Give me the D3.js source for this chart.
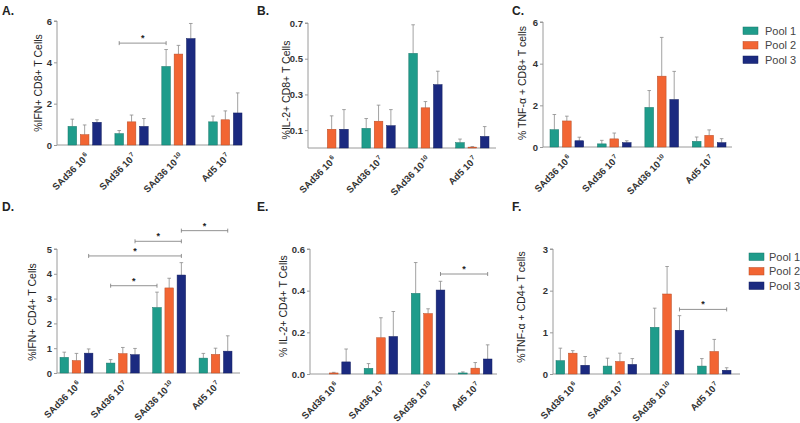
<!DOCTYPE html>
<html lang="en">
  <head>
    <meta charset="utf-8">
    <script src="https://d3js.org/d3.v7.min.js"></script>
    <title>T cell responses</title>
    <style>
      body { margin: 0; background: #fff; }
      text { font-family: Arial, "Liberation Sans", sans-serif; fill: #222; }
    </style>
  </head>
  <body>
    <script>

      var groups = ["SAd36 10|6", "SAd36 10|7", "SAd36 10|10", "Ad5 10|7"];
      var pools = ["Pool 1", "Pool 2", "Pool 3"];
      var colors = ["#1f9c8b", "#f26533", "#1b2a80"];

      // means and upper error bar ends, [pool][group]
      var ifnCd8Mean = [[0.9, 0.55, 3.8, 1.12], [0.5, 1.12, 4.4, 1.22], [1.1, 0.9, 5.15, 1.55]];
      var ifnCd8Top  = [[1.25, 0.7, 4.62, 1.4], [0.97, 1.45, 4.82, 1.65], [1.22, 1.28, 5.88, 2.52]];
      var il2Cd8Mean = [[0, 0.11, 0.53, 0.03], [0.105, 0.15, 0.225, 0.005], [0.105, 0.125, 0.355, 0.065]];
      var il2Cd8Top  = [[0, 0.165, 0.69, 0.05], [0.18, 0.24, 0.26, 0.008], [0.215, 0.215, 0.43, 0.12]];
      var tnfCd8Mean = [[0.83, 0.15, 1.9, 0.27], [1.25, 0.39, 3.4, 0.56], [0.3, 0.21, 2.28, 0.21]];
      var tnfCd8Top  = [[1.56, 0.32, 2.71, 0.48], [1.48, 0.67, 5.26, 0.82], [0.47, 0.3, 3.63, 0.4]];
      var ifnCd4Mean = [[0.63, 0.4, 2.64, 0.6], [0.5, 0.78, 3.43, 0.75], [0.8, 0.74, 3.95, 0.88]];
      var ifnCd4Top  = [[0.84, 0.54, 3.26, 0.79], [0.79, 1.03, 3.82, 1.0], [0.97, 0.99, 4.45, 1.5]];
      var il2Cd4Mean = [[0, 0.027, 0.387, 0.005], [0.005, 0.174, 0.29, 0.028], [0.058, 0.18, 0.403, 0.072]];
      var il2Cd4Top  = [[0, 0.05, 0.535, 0.01], [0.008, 0.27, 0.313, 0.055], [0.12, 0.3, 0.445, 0.14]];
      var tnfCd4Mean = [[0.32, 0.19, 1.12, 0.19], [0.5, 0.3, 1.92, 0.54], [0.21, 0.23, 1.05, 0.09]];
      var tnfCd4Top  = [[0.62, 0.38, 1.58, 0.37], [0.56, 0.5, 2.58, 0.83], [0.42, 0.37, 1.4, 0.15]];

      // significance brackets: [fromGroup, fromPool, toGroup, toPool, y]
      var sigA = [[1, 0, 2, 0, 4.93]];
      var sigD = [[1, 0, 2, 0, 3.52], [0, 2, 2, 2, 4.72], [1, 2, 2, 2, 5.31], [2, 2, 3, 2, 5.74]];
      var sigE = [[2, 2, 3, 2, 0.48]];
      var sigF = [[2, 2, 3, 2, 1.55]];

      var panels = [
        {tag: "A.", tx: 2, ty: 15, ylab: "%IFN+ CD8+ T Cells", lx: 38, ly: 83,
         mean: ifnCd8Mean, top: ifnCd8Top, sig: sigA, ticks: [0, 2, 4, 6], fmt: "d", max: 6,
         x0: 57, b0: 68, b1: 242, xEnd: 242, yBot: 145, yTop: 21},
        {tag: "B.", tx: 257, ty: 15, ylab: "%IL-2+ CD8+ T Cells", lx: 286, ly: 90,
         mean: il2Cd8Mean, top: il2Cd8Top, sig: [], ticks: [0.1, 0.3, 0.5, 0.7], fmt: ".1f", max: 0.7,
         x0: 308, b0: 315, b1: 489, xEnd: 496, yBot: 148, yTop: 23},
        {tag: "C.", tx: 512, ty: 15, ylab: "% TNF-\u03b1 + CD8+ T cells", lx: 522, ly: 83,
         mean: tnfCd8Mean, top: tnfCd8Top, sig: [], ticks: [0, 2, 4, 6], fmt: "d", max: 6,
         x0: 543, b0: 550, b1: 726, xEnd: 732, yBot: 147, yTop: 22},
        {tag: "D.", tx: 2, ty: 211, ylab: "%IFN+ CD4+ T Cells", lx: 32, ly: 312,
         mean: ifnCd4Mean, top: ifnCd4Top, sig: sigD, ticks: [0, 1, 2, 3, 4, 5], fmt: "d", max: 5,
         x0: 57, b0: 60, b1: 232, xEnd: 240, yBot: 373, yTop: 249},
        {tag: "E.", tx: 257, ty: 211, ylab: "% IL-2+ CD4+ T Cells", lx: 283, ly: 306,
         mean: il2Cd4Mean, top: il2Cd4Top, sig: sigE, ticks: [0, 0.2, 0.4, 0.6], fmt: ".1f", max: 0.6,
         x0: 310, b0: 317, b1: 492, xEnd: 497, yBot: 374, yTop: 249},
        {tag: "F.", tx: 512, ty: 211, ylab: "%TNF-\u03b1 + CD4+ T cells", lx: 521, ly: 307,
         mean: tnfCd4Mean, top: tnfCd4Top, sig: sigF, ticks: [0, 1, 2, 3], fmt: "d", max: 3,
         x0: 553, b0: 556, b1: 731, xEnd: 740, yBot: 374, yTop: 249}
      ];

      var legends = [{x: 743, y: 27, tx: 765}, {x: 749, y: 253, tx: 769}];

      var svg = d3.select("body").append("svg")
        .attr("width", 800)
        .attr("height", 423);

      var axisCol = "#9a9a9a";
      var errCol = "#8c8c8c";

      function drawPanel(p){
        var g = svg.append("g");
        var xScale = d3.scaleBand().domain(d3.range(groups.length)).range([p.b0, p.b1]).paddingInner(0.29);
        var pScale = d3.scaleBand().domain(d3.range(pools.length)).range([0, xScale.bandwidth()]).paddingInner(0.3);
        var yScale = d3.scaleLinear().domain([0, p.max]).range([p.yBot, p.yTop]);

        g.append("text").attr("x", p.tx).attr("y", p.ty)
          .style("font-size", "12px").style("font-weight", "bold").text(p.tag);

        // y axis
        var yAxis = d3.axisLeft(yScale).tickValues(p.ticks).tickSize(3).tickPadding(2)
          .tickFormat(d3.format(p.fmt));
        var ya = g.append("g").attr("transform", "translate(" + p.x0 + ",0)").call(yAxis);
        ya.select(".domain").attr("d", "M-3," + yScale(p.max) + "H0V" + p.yBot).attr("stroke", axisCol);
        ya.selectAll(".tick line").attr("stroke", axisCol);
        ya.selectAll(".tick text").style("font-size", "9.5px").style("font-weight", "bold")
          .style("fill", "#333").style("font-family", "Arial, 'Liberation Sans', sans-serif");

        // x axis line
        g.append("line").attr("x1", p.x0).attr("x2", p.xEnd)
          .attr("y1", p.yBot).attr("y2", p.yBot).attr("stroke", axisCol).attr("stroke-width", 1);

        g.append("text")
          .attr("transform", "translate(" + p.lx + "," + p.ly + ") rotate(-90)")
          .attr("text-anchor", "middle").attr("dy", "0.35em")
          .style("font-size", "10.5px").text(p.ylab);

        // bars and error bars
        pools.forEach(function(pool, pi){
          var bars = g.selectAll(".bar" + pi).data(p.mean[pi]).enter();
          bars.append("line")
            .attr("x1", function(d, gi){ return xScale(gi) + pScale(pi) + pScale.bandwidth() / 2; })
            .attr("x2", function(d, gi){ return xScale(gi) + pScale(pi) + pScale.bandwidth() / 2; })
            .attr("y1", function(d){ return yScale(d); })
            .attr("y2", function(d, gi){ return yScale(p.top[pi][gi]); })
            .attr("stroke", errCol).attr("stroke-width", 0.8);
          bars.append("line")
            .attr("x1", function(d, gi){ return xScale(gi) + pScale(pi) + pScale.bandwidth() / 2 - 1.8; })
            .attr("x2", function(d, gi){ return xScale(gi) + pScale(pi) + pScale.bandwidth() / 2 + 1.8; })
            .attr("y1", function(d, gi){ return yScale(p.top[pi][gi]); })
            .attr("y2", function(d, gi){ return yScale(p.top[pi][gi]); })
            .attr("stroke", errCol).attr("stroke-width", 0.8)
            .attr("display", function(d, gi){ return p.top[pi][gi] > 0 ? null : "none"; });
          bars.append("rect")
            .attr("x", function(d, gi){ return xScale(gi) + pScale(pi); })
            .attr("y", function(d){ return yScale(d); })
            .attr("width", pScale.bandwidth())
            .attr("height", function(d){ return p.yBot - yScale(d); })
            .attr("fill", colors[pi])
            .attr("stroke", d3.color(colors[pi]).darker(0.8))
            .attr("stroke-width", 0.5)
            .attr("display", function(d){ return d > 0 ? null : "none"; });
        });

        // x tick labels, rotated 45 degrees; exponent drawn as its own text
        groups.forEach(function(name, gi){
          var parts = name.split("|");
          var cx = xScale(gi) + xScale.bandwidth() / 2 + 2;
          var lg = g.append("g")
            .attr("transform", "translate(" + cx + "," + (p.yBot + 9) + ") rotate(-45)");
          var sup = lg.append("text")
            .attr("x", 0).attr("y", 1)
            .attr("text-anchor", "end")
            .style("font-size", "6.5px").style("font-weight", "bold").style("fill", "#333")
            .text(parts[1]);
          var sw = sup.node().getComputedTextLength ? sup.node().getComputedTextLength() : parts[1].length * 3.6;
          lg.append("text")
            .attr("x", -sw - 1).attr("y", 4.5)
            .attr("text-anchor", "end")
            .style("font-size", "9.5px").style("font-weight", "bold").style("fill", "#333")
            .text(parts[0]);
        });

        // significance brackets
        p.sig.forEach(function(s){
          var xa = xScale(s[0]) + pScale(s[1]) + pScale.bandwidth() / 2;
          var xb = xScale(s[2]) + pScale(s[3]) + pScale.bandwidth() / 2;
          var y = yScale(s[4]);
          g.append("path")
            .attr("d", "M" + xa + "," + (y - 2) + "V" + (y + 2) + "M" + xa + "," + y + "H" + xb +
              "M" + xb + "," + (y - 2) + "V" + (y + 2))
            .attr("stroke", "#777").attr("stroke-width", 0.8).attr("fill", "none");
          g.append("text").attr("x", (xa + xb) / 2).attr("y", y - 2)
            .attr("text-anchor", "middle").style("font-size", "9px").style("font-weight", "bold").text("*");
        });
      }

      panels.forEach(drawPanel);

      legends.forEach(function(l){
        pools.forEach(function(pool, i){
          svg.append("rect").attr("x", l.x).attr("y", l.y + i * 14.5)
            .attr("width", 15).attr("height", 7.5)
            .attr("fill", colors[i]).attr("stroke", d3.color(colors[i]).darker(0.8)).attr("stroke-width", 0.5);
          svg.append("text").attr("x", l.tx).attr("y", l.y + i * 14.5 + 4)
            .attr("dy", "0.35em").style("font-size", "11px").style("fill", "#444").text(pool);
        });
      });

    </script>
  </body>
</html>
